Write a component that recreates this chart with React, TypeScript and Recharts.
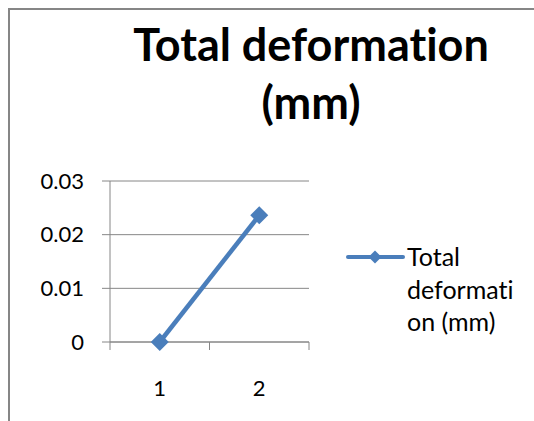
import { LineChart, Line, XAxis, YAxis, CartesianGrid } from "recharts";

const categories = [1, 2];
const deformation = [0, 0.0236];
const yTicks = [0, 0.01, 0.02, 0.03];
// half steps mark the category boundaries (tick marks only)
const xTicks = [0.5, 1, 1.5, 2, 2.5];
const legendLines = ["Total", "deformati", "on (mm)"];

const data = categories.map((c, i) => ({ x: c, value: deformation[i] }));

const BLUE = "#4A7EBB";
const GRID = "#868686";
const FONT = "Lato, 'Open Sans', sans-serif";

function Diamond(props: any) {
  const { cx, cy, size = 9 } = props;
  if (cx == null || cy == null) return null;
  return (
    <path
      d={`M${cx},${cy - size} L${cx + size},${cy} L${cx},${cy + size} L${cx - size},${cy} Z`}
      fill={BLUE}
    />
  );
}

function XTick(props: any) {
  const { x, y, payload } = props;
  const v = payload.value;
  if (Number.isInteger(v)) {
    return (
      <text x={x} y={y + 54} textAnchor="middle" fill="#000" fontSize={22} fontFamily={FONT}>
        {v}
      </text>
    );
  }
  return <line x1={x} y1={y} x2={x} y2={y + 8} stroke={GRID} strokeWidth={1} />;
}

function LegendBox() {
  return (
    <svg width={185} height={110} style={{ fontVariantLigatures: "none" }}>
      <line x1={3} y1={17} x2={58} y2={17} stroke={BLUE} strokeWidth={4} strokeLinecap="round" />
      <Diamond cx={30} cy={17} size={6.5} />
      {legendLines.map((t, i) => (
        <text key={t} x={62} y={26 + i * 32.5} fontSize={25} fontFamily={FONT} fill="#000">
          {t}
        </text>
      ))}
    </svg>
  );
}

export default function App() {
  return (
    <div
      style={{
        position: "fixed",
        left: 0,
        top: 0,
        width: 534,
        height: 421,
        background: "#fff",
        overflow: "hidden",
        fontFamily: FONT,
        fontVariantLigatures: "none",
      }}
    >
      <div
        style={{
          position: "absolute",
          left: 8,
          top: 8,
          width: 600,
          height: 500,
          border: `2px solid ${GRID}`,
        }}
      />
      <div
        style={{
          position: "absolute",
          left: 90,
          top: 15,
          width: 442,
          textAlign: "center",
          fontWeight: 700,
          fontSize: 45,
          lineHeight: "58px",
          color: "#000",
        }}
      >
        <div>Total deformation</div>
        <div>(mm)</div>
      </div>
      <div style={{ position: "absolute", left: 0, top: 0 }}>
        <LineChart
          width={534}
          height={421}
          data={data}
          margin={{ top: 181, right: 225, bottom: 19, left: 0 }}
        >
          <CartesianGrid vertical={false} stroke={GRID} strokeWidth={1} />
          <XAxis
            dataKey="x"
            type="number"
            domain={[0.5, 2.5]}
            ticks={xTicks}
            interval={0}
            height={60}
            tickSize={0}
            tickMargin={0}
            tickLine={false}
            axisLine={{ stroke: GRID }}
            tick={<XTick />}
          />
          <YAxis
            width={110}
            domain={[0, 0.03]}
            ticks={yTicks}
            interval={0}
            tickSize={8}
            tickMargin={18}
            tickLine={{ stroke: GRID }}
            axisLine={{ stroke: GRID }}
            tickFormatter={(v: number) => (v === 0 ? "0" : String(v))}
            tick={{ fill: "#000", fontSize: 22, fontFamily: FONT }}
          />
          <Line
            dataKey="value"
            stroke={BLUE}
            strokeWidth={4.5}
            dot={<Diamond />}
            activeDot={false}
            isAnimationActive={false}
          />
        </LineChart>
      </div>
      <div style={{ position: "absolute", left: 345, top: 240 }}>
        <LegendBox />
      </div>
    </div>
  );
}
